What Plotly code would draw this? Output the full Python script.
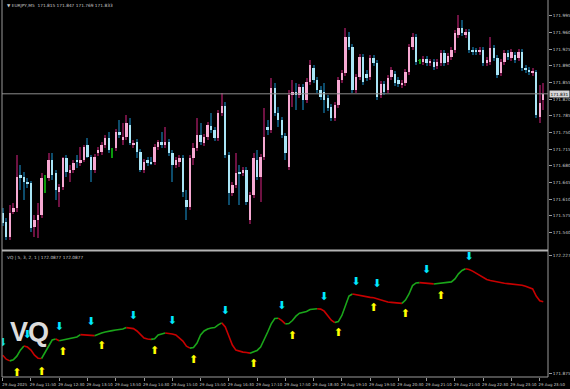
import plotly.graph_objects as go

# ---------------- data ----------------
bars = list(range(154))

open_ = [171.581, 171.562, 171.530, 171.583, 171.591, 171.661, 171.656, 171.646, 171.644, 171.551,
         171.566, 171.577, 171.654, 171.654, 171.692, 171.665, 171.625, 171.635, 171.696, 171.665,
         171.671, 171.692, 171.686, 171.692, 171.724, 171.698, 171.671, 171.707, 171.709, 171.724,
         171.738, 171.713, 171.717, 171.751, 171.734, 171.740, 171.766, 171.724, 171.730, 171.709,
         171.671, 171.692, 171.688, 171.688, 171.719, 171.730, 171.724, 171.730, 171.707, 171.682,
         171.688, 171.696, 171.608, 171.593, 171.696, 171.717, 171.745, 171.728, 171.740, 171.763,
         171.755, 171.738, 171.791, 171.805, 171.703, 171.623, 171.640, 171.667, 171.665, 171.671,
         171.566, 171.619, 171.692, 171.656, 171.698, 171.761, 171.755, 171.843, 171.791, 171.776,
         171.742, 171.677, 171.829, 171.835, 171.829, 171.845, 171.818, 171.856, 171.885, 171.860,
         171.839, 171.835, 171.822, 171.803, 171.780, 171.808, 171.860, 171.875, 171.950, 171.929,
         171.839, 171.866, 171.908, 171.873, 171.866, 171.906, 171.896, 171.829, 171.852, 171.839,
         171.866, 171.873, 171.860, 171.850, 171.854, 171.877, 171.929, 171.950, 171.900, 171.898,
         171.904, 171.896, 171.898, 171.889, 171.896, 171.917, 171.898, 171.908, 171.923, 171.955,
         171.969, 171.955, 171.961, 171.923, 171.921, 171.919, 171.923, 171.896, 171.898, 171.927,
         171.906, 171.875, 171.898, 171.917, 171.906, 171.913, 171.906, 171.919, 171.885, 171.881,
         171.875, 171.877, 171.782, 171.818]

high = [171.591, 171.570, 171.598, 171.602, 171.703, 171.682, 171.667, 171.654, 171.648, 171.577,
        171.602, 171.665, 171.661, 171.707, 171.707, 171.671, 171.642, 171.698, 171.703, 171.682,
        171.692, 171.703, 171.719, 171.724, 171.738, 171.703, 171.705, 171.719, 171.730, 171.745,
        171.751, 171.717, 171.757, 171.776, 171.770, 171.787, 171.780, 171.734, 171.736, 171.715,
        171.694, 171.698, 171.698, 171.726, 171.734, 171.751, 171.761, 171.736, 171.713, 171.698,
        171.703, 171.703, 171.629, 171.703, 171.728, 171.780, 171.770, 171.747, 171.772, 171.791,
        171.761, 171.797, 171.833, 171.814, 171.709, 171.646, 171.707, 171.682, 171.677, 171.677,
        171.625, 171.707, 171.713, 171.705, 171.801, 171.776, 171.864, 171.854, 171.803, 171.782,
        171.749, 171.839, 171.860, 171.854, 171.852, 171.852, 171.864, 171.902, 171.892, 171.866,
        171.847, 171.854, 171.829, 171.810, 171.814, 171.866, 171.881, 171.969, 171.961, 171.936,
        171.873, 171.915, 171.915, 171.881, 171.913, 171.913, 171.902, 171.858, 171.858, 171.871,
        171.887, 171.879, 171.866, 171.860, 171.883, 171.936, 171.959, 171.957, 171.904, 171.910,
        171.910, 171.904, 171.904, 171.904, 171.923, 171.923, 171.917, 171.929, 171.965, 171.996,
        171.986, 171.967, 171.967, 171.929, 171.927, 171.929, 171.929, 171.908, 171.950, 171.934,
        171.913, 171.904, 171.923, 171.923, 171.925, 171.919, 171.925, 171.925, 171.892, 171.887,
        171.885, 171.881, 171.850, 171.854]

low = [171.553, 171.524, 171.524, 171.579, 171.583, 171.629, 171.608, 171.633, 171.541, 171.530,
       171.528, 171.570, 171.623, 171.648, 171.650, 171.608, 171.593, 171.629, 171.656, 171.646,
       171.665, 171.675, 171.679, 171.688, 171.696, 171.646, 171.665, 171.700, 171.703, 171.717,
       171.707, 171.696, 171.711, 171.738, 171.724, 171.734, 171.724, 171.717, 171.696, 171.667,
       171.665, 171.679, 171.682, 171.682, 171.713, 171.717, 171.717, 171.700, 171.646, 171.675,
       171.677, 171.614, 171.566, 171.587, 171.682, 171.711, 171.724, 171.721, 171.734, 171.749,
       171.732, 171.732, 171.784, 171.696, 171.598, 171.616, 171.633, 171.598, 171.658, 171.598,
       171.558, 171.612, 171.650, 171.604, 171.692, 171.745, 171.749, 171.784, 171.761, 171.738,
       171.692, 171.671, 171.803, 171.797, 171.822, 171.797, 171.812, 171.850, 171.854, 171.833,
       171.818, 171.791, 171.795, 171.774, 171.774, 171.801, 171.854, 171.868, 171.923, 171.833,
       171.833, 171.860, 171.850, 171.858, 171.860, 171.889, 171.818, 171.822, 171.829, 171.833,
       171.860, 171.847, 171.845, 171.843, 171.847, 171.871, 171.923, 171.892, 171.894, 171.892,
       171.889, 171.889, 171.881, 171.883, 171.889, 171.889, 171.892, 171.902, 171.917, 171.948,
       171.952, 171.948, 171.917, 171.913, 171.913, 171.913, 171.889, 171.889, 171.892, 171.900,
       171.864, 171.868, 171.892, 171.902, 171.900, 171.896, 171.900, 171.879, 171.875, 171.871,
       171.868, 171.780, 171.770, 171.797]

close = [171.560, 171.530, 171.581, 171.591, 171.656, 171.654, 171.646, 171.642, 171.549, 171.566,
         171.577, 171.654, 171.654, 171.692, 171.661, 171.629, 171.635, 171.696, 171.667, 171.671,
         171.686, 171.688, 171.692, 171.719, 171.698, 171.671, 171.698, 171.713, 171.724, 171.738,
         171.713, 171.713, 171.751, 171.745, 171.740, 171.770, 171.728, 171.728, 171.709, 171.671,
         171.688, 171.686, 171.685, 171.719, 171.730, 171.724, 171.730, 171.707, 171.682, 171.692,
         171.696, 171.625, 171.593, 171.696, 171.717, 171.745, 171.730, 171.740, 171.766, 171.755,
         171.738, 171.791, 171.805, 171.703, 171.623, 171.640, 171.665, 171.663, 171.671, 171.604,
         171.619, 171.696, 171.656, 171.698, 171.740, 171.755, 171.843, 171.791, 171.776, 171.745,
         171.707, 171.829, 171.835, 171.829, 171.845, 171.818, 171.856, 171.892, 171.860, 171.839,
         171.824, 171.818, 171.801, 171.780, 171.808, 171.860, 171.875, 171.950, 171.929, 171.839,
         171.866, 171.908, 171.856, 171.864, 171.906, 171.896, 171.824, 171.852, 171.835, 171.864,
         171.881, 171.854, 171.852, 171.854, 171.877, 171.929, 171.950, 171.898, 171.900, 171.904,
         171.896, 171.898, 171.887, 171.898, 171.917, 171.896, 171.910, 171.923, 171.959, 171.969,
         171.959, 171.961, 171.923, 171.919, 171.919, 171.923, 171.896, 171.902, 171.927, 171.906,
         171.871, 171.898, 171.917, 171.908, 171.919, 171.902, 171.919, 171.885, 171.881, 171.877,
         171.879, 171.787, 171.812, 171.831]

vq = [171.929, 171.917, 171.912, 171.915, 171.926, 171.944, 171.956, 171.953, 171.944, 171.929,
      171.920, 171.919, 171.938, 171.956, 171.974, 171.977, 171.972, 171.974, 171.975, 171.977,
      171.979, 171.983, 171.990, 171.989, 171.988, 171.988, 171.987, 171.992, 171.995, 171.998,
      172.001, 172.002, 172.004, 172.005, 172.007, 172.011, 172.010, 172.008, 172.001, 171.989,
      171.980, 171.977, 171.976, 171.978, 171.989, 171.993, 171.995, 171.994, 171.992, 171.989,
      171.981, 171.971, 171.956, 171.950, 171.952, 171.965, 171.989, 172.001, 172.007, 172.010,
      172.011, 172.019, 172.025, 172.013, 171.986, 171.959, 171.944, 171.940, 171.938, 171.937,
      171.935, 171.938, 171.943, 171.953, 171.974, 171.998, 172.022, 172.038, 172.039, 172.032,
      172.022, 172.023, 172.032, 172.045, 172.054, 172.056, 172.059, 172.065, 172.066, 172.067,
      172.066, 172.060, 172.045, 172.033, 172.026, 172.029, 172.047, 172.078, 172.105, 172.111,
      172.109, 172.106, 172.103, 172.102, 172.101, 172.100, 172.097, 172.092, 172.089, 172.087,
      172.086, 172.085, 172.084, 172.083, 172.093, 172.111, 172.136, 172.144, 172.145, 172.144,
      172.143, 172.142, 172.141, 172.142, 172.143, 172.144, 172.145, 172.147, 172.156, 172.171,
      172.181, 172.186, 172.184, 172.179, 172.173, 172.167, 172.161, 172.154, 172.151, 172.149,
      172.145, 172.144, 172.143, 172.142, 172.141, 172.140, 172.139, 172.137, 172.134, 172.131,
      172.126, 172.105, 172.091, 172.088]

down_arrow_bars = [0, 7, 16, 25, 37, 48, 63, 79, 91, 100, 106, 120, 132]
down_arrow_vals = [171.965, 171.989, 172.013, 172.028, 172.045, 172.031, 172.060,
                   172.075, 172.102, 172.147, 172.141, 172.182, 172.221]
up_arrow_bars = [4, 11, 17, 28, 43, 54, 71, 82, 95, 105, 114, 124]
up_arrow_vals = [171.876, 171.879, 171.938, 171.956, 171.941, 171.914, 171.903,
                 171.986, 171.995, 172.069, 172.051, 172.105]

time_tick_bars = [0, 8, 16, 24, 32, 40, 48, 56, 64, 72, 80, 88, 96, 104, 112, 120, 128, 136, 144, 152]
time_tick_labels = ["29 Aug 2025", "29 Aug 11:50", "29 Aug 12:30", "29 Aug 13:10", "29 Aug 13:50",
                    "29 Aug 14:30", "29 Aug 15:10", "29 Aug 15:50", "29 Aug 16:30", "29 Aug 17:10",
                    "29 Aug 17:50", "29 Aug 18:30", "29 Aug 19:10", "29 Aug 19:50", "29 Aug 20:30",
                    "29 Aug 21:10", "29 Aug 21:50", "29 Aug 22:30", "29 Aug 23:10", "29 Aug 23:50"]

price_ticks = [171.505, 171.540, 171.575, 171.610, 171.645, 171.680, 171.715, 171.750,
               171.785, 171.820, 171.855, 171.890, 171.925, 171.960, 171.995]
sub_ticks = [171.875, 172.227]
last_price = 171.831
header_text = "▼ EURJPY,M5  171.815 171.847 171.769 171.833"
sub_label = "VQ | 5, 3, 2, 1 | 172.0877 172.0877"

# ---------------- styling ----------------
UP_BODY, DN_BODY, FLAT = "#f6a9d2", "#a9e5f6", "#0c9a0c"
UP_WICK, DN_WICK = "#6e1242", "#0d4c6b"
GRID_TXT = "#c8c8c8"
FRAME = "#9a9a9a"
TICKFONT = dict(family="DejaVu Sans", size=4.3, color=GRID_TXT)
XTICKFONT = dict(family="DejaVu Sans", size=3.9, color=GRID_TXT)

wick_col, body_col = [], []
for o, c in zip(open_, close):
    if c > o:
        wick_col.append(UP_WICK); body_col.append(UP_BODY)
    elif c < o:
        wick_col.append(DN_WICK); body_col.append(DN_BODY)
    else:
        wick_col.append(FLAT); body_col.append(FLAT)

wick_len = [h - l for h, l in zip(high, low)]
body_base = [min(o, c) for o, c in zip(open_, close)]
body_len = [max(abs(c - o), 0.0018) for o, c in zip(open_, close)]

fig = go.Figure()

fig.add_trace(go.Bar(x=bars, y=wick_len, base=low, width=0.3,
                     marker=dict(color=wick_col, line=dict(width=0)),
                     xaxis="x", yaxis="y", hoverinfo="skip", showlegend=False))
fig.add_trace(go.Bar(x=bars, y=body_len, base=body_base, width=0.68,
                     marker=dict(color=body_col, line=dict(width=0)),
                     xaxis="x", yaxis="y", hoverinfo="skip", showlegend=False))

# current price line
fig.add_trace(go.Scatter(x=[bars[0] - 1, bars[-1] + 3], y=[last_price, last_price], mode="lines",
                         line=dict(color="#8c8c8c", width=1), xaxis="x", yaxis="y",
                         hoverinfo="skip", showlegend=False))

# VQ line split into rising (green) / falling (red) runs
runs = []
state = "red"
cur = None
for i in range(1, len(vq)):
    if vq[i] > vq[i - 1]:
        state = "green"
    elif vq[i] < vq[i - 1]:
        state = "red"
    if cur is None or cur[0] != state:
        cur = [state, [bars[i - 1]], [vq[i - 1]]]
        runs.append(cur)
    cur[1].append(bars[i])
    cur[2].append(vq[i])

for st, xs, ys in runs:
    fig.add_trace(go.Scatter(x=xs, y=ys, mode="lines",
                             line=dict(color="#1aa51a" if st == "green" else "#c80000", width=1.6),
                             xaxis="x", yaxis="y2", hoverinfo="skip", showlegend=False))

fig.add_trace(go.Scatter(x=down_arrow_bars, y=down_arrow_vals, mode="text",
                         text=["⬇"] * len(down_arrow_bars),
                         textfont=dict(family="DejaVu Sans", size=11, color="#00e8ff"),
                         xaxis="x", yaxis="y2", hoverinfo="skip", showlegend=False))
fig.add_trace(go.Scatter(x=up_arrow_bars, y=up_arrow_vals, mode="text",
                         text=["⬆"] * len(up_arrow_bars),
                         textfont=dict(family="DejaVu Sans", size=11, color="#ffff00"),
                         xaxis="x", yaxis="y2", hoverinfo="skip", showlegend=False))

H = 377.0
main_bottom = (H - 249) / H
sub_top = (H - 252) / H
sep = (H - 250.5) / H

fig.update_layout(
    width=570, height=389,
    margin=dict(l=2, r=22, t=0, b=12),
    paper_bgcolor="#000000", plot_bgcolor="#000000",
    barmode="overlay", bargap=0,
    showlegend=False,
    xaxis=dict(domain=[0, 1], anchor="y2", range=[-0.2, 154.34],
               showgrid=False, zeroline=False, showline=False,
               tickmode="array", tickvals=time_tick_bars, ticktext=time_tick_labels,
               ticks="outside", ticklen=3, tickcolor=FRAME, tickangle=0,
               ticklabelshift=12, tickfont=XTICKFONT),
    yaxis=dict(domain=[main_bottom, 1], anchor="x", side="right", range=[171.5051, 172.028],
               showgrid=False, zeroline=False, showline=False,
               tickmode="array", tickvals=price_ticks, ticktext=[f"{v:.3f}" for v in price_ticks],
               ticks="outside", ticklen=3, tickcolor=FRAME, tickfont=TICKFONT),
    yaxis2=dict(domain=[0, sub_top], anchor="x", side="right", range=[171.864, 172.236],
                showgrid=False, zeroline=False, showline=False,
                tickmode="array", tickvals=sub_ticks, ticktext=[f"{v:.3f}" for v in sub_ticks],
                ticks="outside", ticklen=3, tickcolor=FRAME, tickfont=TICKFONT),
    shapes=[
        dict(type="line", xref="paper", yref="paper", x0=0, x1=0, y0=0, y1=1,
             line=dict(color=FRAME, width=1)),
        dict(type="line", xref="paper", yref="paper", x0=1, x1=1, y0=0, y1=1,
             line=dict(color=FRAME, width=1)),
        dict(type="line", xref="paper", yref="paper", x0=0, x1=1, y0=0, y1=0,
             line=dict(color=FRAME, width=1)),
        dict(type="line", xref="paper", yref="paper", x0=0, x1=1, y0=sep, y1=sep,
             line=dict(color="#b4b4b4", width=2)),
    ],
    annotations=[
        dict(xref="paper", yref="paper", x=0.006, y=1, xanchor="left", yanchor="top", yshift=-1,
             text=header_text, showarrow=False,
             font=dict(family="DejaVu Sans", size=4.3, color=GRID_TXT)),
        dict(xref="paper", yref="paper", x=0.006, y=sub_top, xanchor="left", yanchor="top", yshift=-1,
             text=sub_label, showarrow=False,
             font=dict(family="DejaVu Sans", size=4.3, color=GRID_TXT)),
        dict(xref="paper", yref="y", x=1, y=last_price, xanchor="left", yanchor="middle", xshift=1,
             text=f"{last_price:.3f}", showarrow=False, bgcolor="#d8d8d8", borderpad=0.5,
             font=dict(family="DejaVu Sans", size=4.3, color="#000000")),
        dict(xref="paper", yref="paper", x=0.0495, y=(H - 332) / H, xanchor="center", yanchor="middle",
             text="<b>VQ</b>", showarrow=False,
             font=dict(family="Liberation Sans", size=27, color="#dcdcdc")),
    ],
)

fig.write_html("out.html", config={"displayModeBar": False})
